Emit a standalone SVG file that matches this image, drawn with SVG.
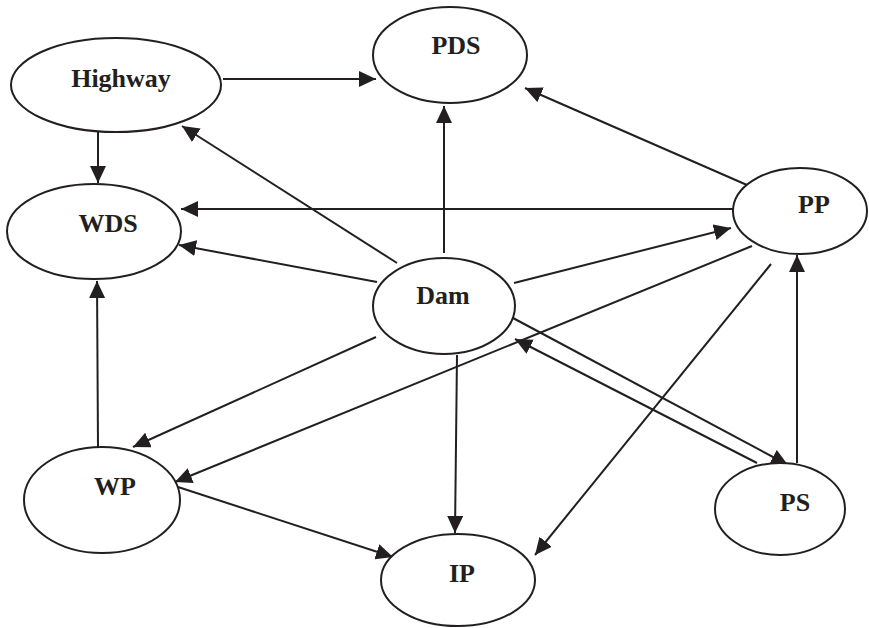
<svg xmlns="http://www.w3.org/2000/svg" width="869" height="628" viewBox="0 0 869 628">
<style>
.n ellipse{fill:#fff;stroke:#231f20;stroke-width:2}
.n text{font-family:"Liberation Serif","Times New Roman",serif;font-weight:bold;font-size:26px;fill:#231f20;text-anchor:middle}
.e line{stroke:#231f20;stroke-width:2;marker-end:url(#ah)}
</style>
<defs>
<marker id="ah" markerUnits="userSpaceOnUse" markerWidth="18" markerHeight="16" refX="17" refY="8" orient="auto">
<path d="M0,0 L17,8 L0,16 z" fill="#231f20"/>
</marker>
</defs>
<rect width="869" height="628" fill="#fff"/>
<g class="e" id="connectors">
<line x1="223" y1="79" x2="376" y2="79"/>
<line x1="98" y1="132" x2="98" y2="183"/>
<line x1="397" y1="263" x2="182" y2="126"/>
<line x1="444" y1="253" x2="444" y2="106"/>
<line x1="747" y1="185" x2="525" y2="88"/>
<line x1="733" y1="209" x2="181" y2="209"/>
<line x1="377" y1="282" x2="179" y2="245"/>
<line x1="514" y1="283" x2="731" y2="228"/>
<line x1="752" y1="246" x2="175" y2="482"/>
<line x1="771" y1="264" x2="535" y2="555"/>
<line x1="797" y1="463" x2="797" y2="255"/>
<line x1="513" y1="318" x2="788" y2="465"/>
<line x1="757" y1="463" x2="515" y2="339"/>
<line x1="457" y1="355" x2="455" y2="533"/>
<line x1="376" y1="337" x2="133" y2="447"/>
<line x1="178" y1="487" x2="393" y2="557"/>
<line x1="98" y1="447" x2="97" y2="281"/>
</g>
<g class="n" id="highway"><ellipse cx="116" cy="85" rx="105" ry="47"/><text x="121" y="87">Highway</text></g>
<g class="n" id="pds"><ellipse cx="450" cy="55" rx="77" ry="48"/><text x="456" y="54">PDS</text></g>
<g class="n" id="wds"><ellipse cx="94" cy="231.5" rx="87" ry="47.5"/><text x="108" y="232">WDS</text></g>
<g class="n" id="pp"><ellipse cx="800" cy="211" rx="67" ry="43"/><text x="814" y="213">PP</text></g>
<g class="n" id="dam"><ellipse cx="444" cy="306" rx="71" ry="48"/><text x="443" y="304">Dam</text></g>
<g class="n" id="wp"><ellipse cx="102" cy="500" rx="78" ry="53"/><text x="115" y="495">WP</text></g>
<g class="n" id="ps"><ellipse cx="780" cy="509" rx="65" ry="46"/><text x="795" y="511">PS</text></g>
<g class="n" id="ip"><ellipse cx="458" cy="580" rx="77" ry="46"/><text x="462" y="582">IP</text></g>
</svg>
